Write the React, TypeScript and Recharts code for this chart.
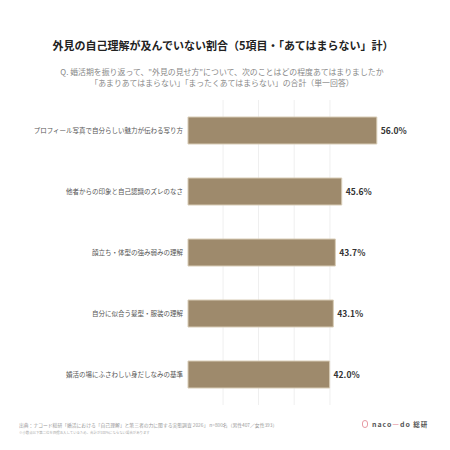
import { BarChart, Bar, XAxis, YAxis, CartesianGrid, LabelList } from 'recharts';

const categories = [
  'プロフィール写真で自分らしい魅力が伝わる写り方',
  '他者からの印象と自己認識のズレのなさ',
  '顔立ち・体型の強み弱みの理解',
  '自分に似合う髪型・服装の理解',
  '婚活の場にふさわしい身だしなみの基準',
];
const values = [56.0, 45.6, 43.7, 43.1, 42.0];
const gridTicks = [10.4, 20.9, 31.5, 42.1];

const data = categories.map((name, i) => ({ name, value: values[i] }));

const FONT = '"Noto Sans CJK JP", "Noto Sans", sans-serif';

export default function App() {
  return (
    <div
      style={{
        position: 'absolute',
        left: 0,
        top: 0,
        width: 450,
        height: 450,
        background: '#fff',
        fontFamily: FONT,
        overflow: 'hidden',
      }}
    >
      <div
        style={{
          position: 'absolute',
          top: 37,
          left: 0,
          width: 446,
          textAlign: 'center',
          fontSize: 11,
          fontWeight: 700,
          color: '#222',
          whiteSpace: 'nowrap',
        }}
      >
        外見の自己理解が及んでいない割合（5項目・「あてはまらない」計）
      </div>
      <div
        style={{
          position: 'absolute',
          top: 67,
          left: 0,
          width: 444,
          textAlign: 'center',
          fontSize: 7.9,
          lineHeight: '10.8px',
          color: '#888',
          whiteSpace: 'nowrap',
        }}
      >
        <div>Q. 婚活期を振り返って、"外見の見せ方"について、次のことはどの程度あてはまりましたか</div>
        <div>「あまりあてはまらない」「まったくあてはまらない」の合計（単一回答）</div>
      </div>

      <BarChart
        width={450}
        height={450}
        layout="vertical"
        data={data}
        margin={{ top: 100, right: 26, bottom: 45, left: 0 }}
        barSize={27}
      >
        <CartesianGrid horizontal={false} stroke="#efefef" strokeWidth={1} syncWithTicks />
        <XAxis type="number" domain={[0, 70]} ticks={gridTicks} hide />
        <YAxis
          type="category"
          dataKey="name"
          width={188}
          axisLine={false}
          tickLine={false}
          tickSize={0}
          tickMargin={5}
          interval={0}
          tick={{ fontSize: 6.5, fill: '#555', fontFamily: FONT }}
        />
        <Bar
          dataKey="value"
          fill="#9e8a6c"
          stroke="#d8ccb6"
          strokeWidth={1}
          isAnimationActive={false}
        >
          <LabelList
            dataKey="value"
            position="right"
            offset={4}
            formatter={(v: number) => `${Number(v).toFixed(1)}%`}
            style={{ fontSize: 8.5, fontWeight: 700, fill: '#333', fontFamily: FONT }}
          />
        </Bar>
      </BarChart>

      <div
        style={{
          position: 'absolute',
          top: 421,
          left: 19,
          fontSize: 4.8,
          color: '#999',
          whiteSpace: 'nowrap',
        }}
      >
        出典：ナコード総研「婚活における「自己理解」と第三者の力に関する実態調査 2026」 n=800名（男性407／女性393）
      </div>
      <div
        style={{
          position: 'absolute',
          top: 430,
          left: 19,
          fontSize: 3.4,
          color: '#aaa',
          whiteSpace: 'nowrap',
        }}
      >
        ※小数点以下第二位を四捨五入しているため、合計が100%にならない場合があります
      </div>
      <div
        style={{
          position: 'absolute',
          top: 419,
          left: 362,
          fontSize: 7,
          color: '#555',
          whiteSpace: 'nowrap',
          display: 'flex',
          alignItems: 'center',
          gap: 4,
        }}
      >
        <span
          style={{
            display: 'inline-block',
            width: 6,
            height: 8,
            borderRadius: 3,
            border: '1.5px solid #e79aa3',
            boxSizing: 'border-box',
          }}
        />
        <span style={{ letterSpacing: 1, fontWeight: 700 }}>
          naco<span style={{ color: '#e79aa3' }}>—</span>do <span style={{ fontSize: 6.5 }}>総研</span>
        </span>
      </div>
    </div>
  );
}
